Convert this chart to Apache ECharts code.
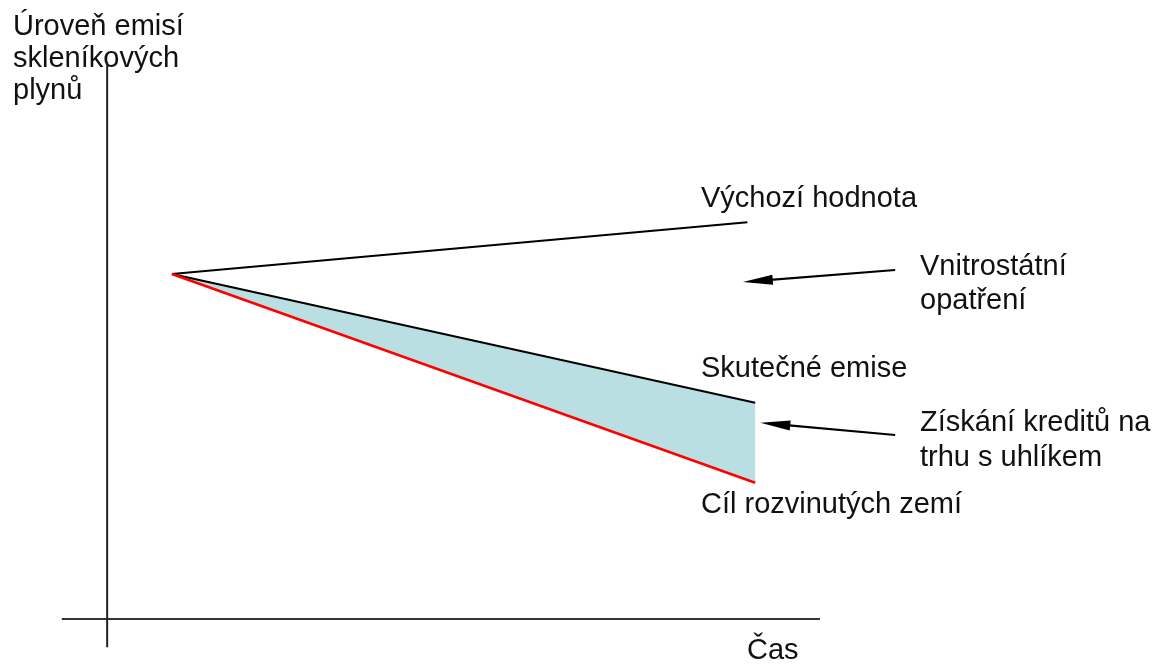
<!DOCTYPE html>
<html>
<head>
<meta charset="utf-8">
<title>Emise skleníkových plynů</title>
<script src="https://cdn.jsdelivr.net/npm/echarts@6.0.0/dist/echarts.min.js"></script>
<style>
  html, body { margin: 0; padding: 0; background: #fff; }
  #chart { width: 1155px; height: 664px; }
</style>
</head>
<body>
<div id="chart"></div>
<script>
// [čas, úroveň emisí] - abstract units
const baseline = [[1, 6], [9.88, 6.9]]
const actualEmissions = [[1, 6], [10, 3.76]]
const developedTarget = [[1, 6], [10, 2.37]]
// arrow ends are where the arrowhead sits (head is drawn centred there)
const arrowDomestic = [[12.16, 6.07], [10.04, 5.88]]
const arrowCredits = [[12.16, 3.2], [10.31, 3.39]]
const timeAxisLine = [[-0.7, 0], [11, 0]]
const emissionAxisLine = [[0, -0.49], [0, 9.69]]

const labelFont = '29px "Liberation Sans", Arial, sans-serif'

const chart = echarts.init(document.getElementById('chart'))

const txt = (text, x, y) => ({
  type: 'text',
  style: {
    text: text,
    x: x,
    y: y,
    font: labelFont,
    fill: '#111',
    textAlign: 'left',
    align: 'left',
    textVerticalAlign: 'middle',
    verticalAlign: 'middle'
  }
})

const plainLine = (data, color, width, z) => ({
  type: 'line',
  data: data,
  symbol: 'none',
  silent: true,
  z: z,
  lineStyle: { color: color, width: width },
  animation: false
})

const arrow = (coords) => ({
  type: 'lines',
  coordinateSystem: 'cartesian2d',
  data: [{ coords: coords }],
  symbol: ['none', 'triangle'],
  symbolSize: [[1, 1], [10, 30]],
  lineStyle: { color: '#000', width: 2.2, opacity: 1, curveness: 0 },
  silent: true,
  z: 5,
  animation: false
})

const option = {
  backgroundColor: '#fff',
  animation: false,
  grid: { left: 61.8, right: 11, top: 61.25, bottom: 16.25 },
  xAxis: { type: 'value', min: -0.7, max: 16, show: false },
  yAxis: { type: 'value', min: -0.5, max: 9.7, show: false },
  series: [
    {
      // plocha mezi skutečnými emisemi a cílem
      type: 'custom',
      silent: true,
      z: 1,
      renderItem: (params, api) => {
        const pts = actualEmissions.concat(developedTarget.slice().reverse())
          .map(p => api.coord(p))
        return {
          type: 'polygon',
          shape: { points: pts },
          style: { fill: '#b9dfe2' }
        }
      },
      data: [0]
    },
    plainLine(actualEmissions, '#000', 2, 3),
    plainLine(developedTarget, '#ff0000', 2.6, 4),
    plainLine(baseline, '#000', 2, 3),
    plainLine(timeAxisLine, '#333', 2, 2),
    plainLine(emissionAxisLine, '#222', 2, 2),
    arrow(arrowDomestic),
    arrow(arrowCredits)
  ],
  graphic: [
    txt('Úroveň emisí', 13, 27),
    txt('skleníkových', 13, 59),
    txt('plynů', 13, 91),
    txt('Výchozí hodnota', 701, 199),
    txt('Vnitrostátní', 920, 267),
    txt('opatření', 920, 301),
    txt('Skutečné emise', 701, 369),
    txt('Získání kreditů na', 920, 423),
    txt('trhu s uhlíkem', 920, 458),
    txt('Cíl rozvinutých zemí', 701, 505),
    txt('Čas', 747, 651)
  ]
}

chart.setOption(option)
</script>
</body>
</html>
